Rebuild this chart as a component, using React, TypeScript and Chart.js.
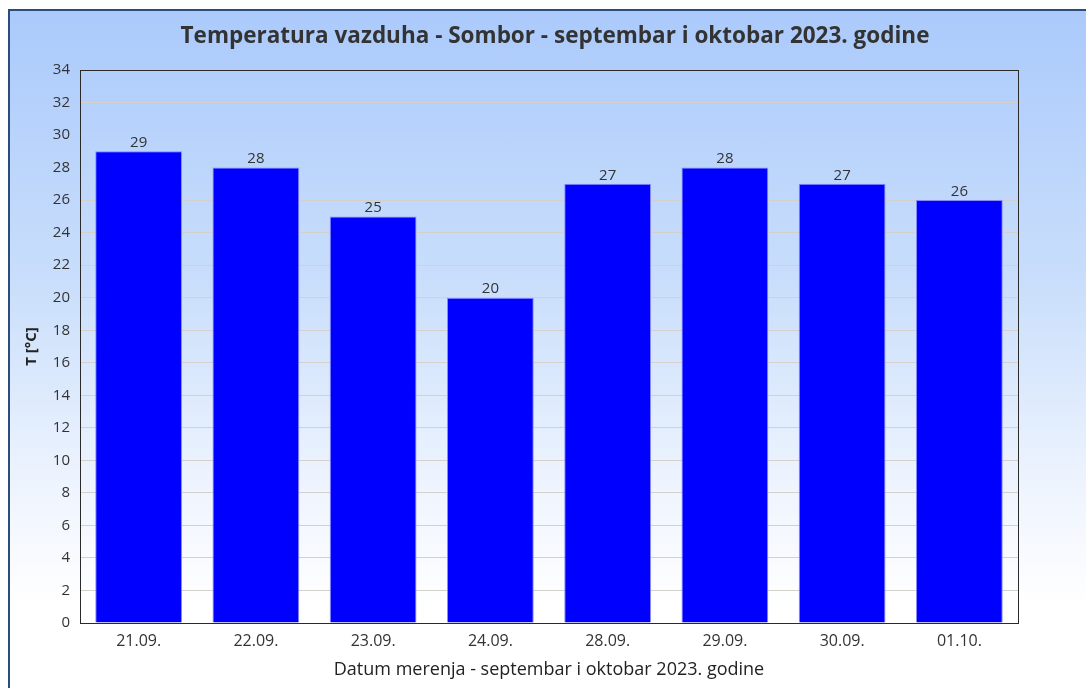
import React, { useEffect, useRef } from "react";
import { Chart, registerables } from "chart.js";

Chart.register(...registerables);

const categories = ["21.09.", "22.09.", "23.09.", "24.09.", "28.09.", "29.09.", "30.09.", "01.10."];
const temperatures = [29, 28, 25, 20, 27, 28, 27, 26];
const titleText = "Temperatura vazduha - Sombor - septembar i oktobar 2023. godine";
const xTitleText = "Datum merenja - septembar i oktobar 2023. godine";
const yTitleText = "T [°C]";

const FONT = "'Open Sans', 'DejaVu Sans', sans-serif";

const textPlugin = {
  id: "customText",
  afterDraw(chart: any) {
    const ctx = chart.ctx;
    const ca = chart.chartArea;
    ctx.save();
    // plot border
    ctx.strokeStyle = "#2a2a2a";
    ctx.lineWidth = 1;
    ctx.strokeRect(Math.round(ca.left) + 0.5, Math.round(ca.top) + 0.5, Math.round(ca.right - ca.left), Math.round(ca.bottom - ca.top));
    // title
    ctx.fillStyle = "#333";
    ctx.textAlign = "center";
    ctx.textBaseline = "middle";
    ctx.font = `bold 22.5px ${FONT}`;
    ctx.fillText(titleText, 555, 37);
    // x title
    ctx.font = `18px ${FONT}`;
    ctx.fillStyle = "#222";
    ctx.fillText(xTitleText, (ca.left + ca.right) / 2, 670);
    // y title
    ctx.save();
    ctx.translate(32, (ca.top + ca.bottom) / 2);
    ctx.rotate(-Math.PI / 2);
    ctx.font = `bold 15px ${FONT}`;
    ctx.fillText(yTitleText, 0, 0);
    ctx.restore();
    // data labels
    const meta = chart.getDatasetMeta(0);
    ctx.font = `15px ${FONT}`;
    ctx.fillStyle = "#333";
    ctx.textBaseline = "bottom";
    meta.data.forEach((bar: any, i: number) => {
      ctx.fillText(String(temperatures[i]), bar.x, bar.y - 1);
    });
    ctx.restore();
  },
};

export default function App() {
  const canvasRef = useRef<HTMLCanvasElement | null>(null);

  useEffect(() => {
    const canvas = canvasRef.current;
    if (!canvas) return;
    const chart = new Chart(canvas, {
      type: "bar",
      data: {
        labels: categories,
        datasets: [
          {
            data: temperatures,
            backgroundColor: "#0000ff",
            borderColor: "#8a8aff",
            borderWidth: 1,
            barPercentage: 0.74,
            categoryPercentage: 1,
          },
        ],
      },
      options: {
        animation: false,
        responsive: false,
        maintainAspectRatio: false,
        layout: { padding: { left: 0, right: 68, top: 70, bottom: 0 } },
        plugins: {
          legend: { display: false },
          title: { display: false },
          tooltip: { enabled: false },
        },
        scales: {
          x: {
            grid: { display: false, drawTicks: false },
            border: { display: false },
            ticks: {
              color: "#333",
              font: { family: FONT, size: 16 },
              padding: 9,
              maxRotation: 0,
            },
            afterFit(scale: any) {
              scale.height = 65;
            },
          },
          y: {
            min: 0,
            max: 34,
            grid: { color: "#d4d0cc", drawTicks: false, lineWidth: 1 },
            border: { display: false },
            ticks: {
              stepSize: 2,
              color: "#333",
              font: { family: FONT, size: 15 },
              padding: 10,
            },
            afterFit(scale: any) {
              scale.width = 80;
            },
          },
        },
      },
      plugins: [textPlugin],
    } as any);
    return () => chart.destroy();
  }, []);

  return (
    <>
      <div
        style={{
          position: "fixed",
          left: 8,
          top: 9,
          right: 0,
          bottom: 0,
          borderLeft: "2px solid #2b4d7c",
          borderTop: "2px solid #2b4d7c",
          background: "linear-gradient(to bottom, #abcafb 0%, #c9defb 40%, #eef4fe 70%, #ffffff 88%, #ffffff 100%)",
        }}
      />
      <canvas
        ref={canvasRef}
        width={1086}
        height={688}
        style={{ position: "fixed", left: 0, top: 0, width: 1086, height: 688 }}
      />
    </>
  );
}
